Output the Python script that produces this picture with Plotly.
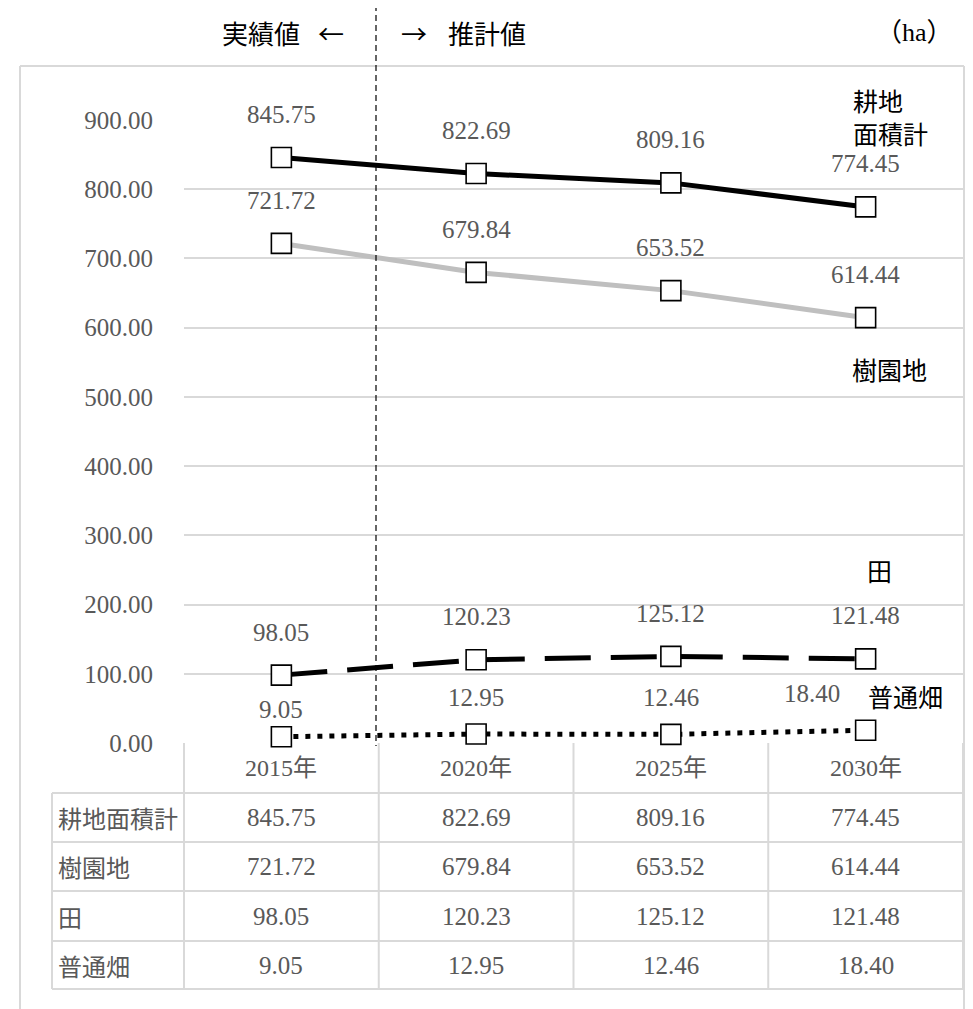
import plotly.graph_objects as go

categories = ["2015年", "2020年", "2025年", "2030年"]
series_names = ["耕地面積計", "樹園地", "田", "普通畑"]
total = [845.75, 822.69, 809.16, 774.45]
orchard = [721.72, 679.84, 653.52, 614.44]
paddy = [98.05, 120.23, 125.12, 121.48]
upland = [9.05, 12.95, 12.46, 18.40]
series_values = [total, orchard, paddy, upland]

W, H = 973, 1009
OFF = 8  # page body margin
def fx(px):
    return (px - OFF) / W
def fy(py):
    return 1 - (py - OFF) / H

NUM_FONT = "Liberation Serif, Noto Sans CJK JP"
CJK_FONT = "Noto Sans CJK JP"
GRAY = "#595959"
GRID = "#d9d9d9"

PLOT_L, PLOT_R, PLOT_T, PLOT_B = 184, 963, 120, 743

styles = [
    dict(color="black", width=5, dash="solid"),
    dict(color="#bfbfbf", width=5, dash="solid"),
    dict(color="black", width=5, dash="46px,20px"),
    dict(color="black", width=5, dash="5px,7px"),
]

fig = go.Figure()
for name, vals, st in zip(series_names, series_values, styles):
    fig.add_trace(go.Scatter(
        x=categories, y=vals, name=name, mode="lines+markers",
        line=dict(color=st["color"], width=st["width"], dash=st["dash"]),
        marker=dict(symbol="square", size=20, color="white",
                    line=dict(color="black", width=1.6)),
        showlegend=False, cliponaxis=False,
    ))

annotations = []
label_shift = [43, 43, 43, 37]
for si, vals in enumerate(series_values):
    for ci, v in enumerate(vals):
        ys = label_shift[si]
        xs = 0
        if si == 3 and ci == 0:
            ys = 27
        if si == 3 and ci == 3:
            xs = -54
        annotations.append(dict(
            x=categories[ci], y=v, xref="x", yref="y", text=f"{v:.2f}",
            showarrow=False, yshift=ys, xshift=xs,
            font=dict(family=NUM_FONT, size=25, color=GRAY)))

name_font = dict(family=CJK_FONT, size=25, color="black")
def pa(xp, yp, text, anchor, font):
    return dict(x=fx(xp), y=fy(yp), xref="paper", yref="paper", text=text,
                showarrow=False, xanchor=anchor, yanchor="middle", font=font)

annotations += [
    pa(851, 100, "耕地", "left", name_font),
    pa(851, 133, "面積計", "left", name_font),
    pa(850, 369, "樹園地", "left", name_font),
    pa(879, 570, "田", "center", name_font),
    pa(866, 696, "普通畑", "left", name_font),
]

head_font = dict(family=CJK_FONT, size=26, color="black")
annotations += [
    pa(302, 32, "実績値", "right", head_font),
    pa(331, 32, "←", "center", head_font),
    pa(414, 32, "→", "center", head_font),
    pa(446, 32, "推計値", "left", head_font),
    pa(955, 32, "（ha）", "right", dict(family=NUM_FONT, size=26, color="black")),
]

row_tops = [743, 793, 842, 891, 941, 989]
col_w = (PLOT_R - PLOT_L) / 4
TBL_L = 52
shapes = []
def hline(x0, x1, y, color=GRID, width=2, dash="solid"):
    return dict(type="line", xref="paper", yref="paper", x0=fx(x0), x1=fx(x1),
                y0=fy(y), y1=fy(y), line=dict(color=color, width=width, dash=dash))
def vline(x, y0, y1, color=GRID, width=2, dash="solid", layer="above"):
    return dict(type="line", xref="paper", yref="paper", x0=fx(x), x1=fx(x),
                y0=fy(y0), y1=fy(y1), line=dict(color=color, width=width, dash=dash),
                layer=layer)

for ci in range(5):
    shapes.append(vline(PLOT_L + ci * col_w, 743, 989))
shapes.append(vline(TBL_L, 793, 989))
for r in row_tops[1:]:
    shapes.append(hline(TBL_L, PLOT_R, r))
shapes.append(hline(20, 964, 66))
shapes.append(vline(20, 66, 1020))
shapes.append(vline(964, 66, 1020))
shapes.append(vline(376, 5, 746, color="black", width=1.2, dash="6px,4px"))

tbl_font = dict(family=NUM_FONT, size=25, color=GRAY)
lbl_font = dict(family=CJK_FONT, size=24, color=GRAY)
for ci, c in enumerate(categories):
    annotations.append(dict(x=c, y=fy(768), xref="x", yref="paper", text=c,
                            showarrow=False, xanchor="center", yanchor="middle",
                            font=dict(family=NUM_FONT, size=24, color=GRAY)))
for ri, (name, vals) in enumerate(zip(series_names, series_values)):
    yc = (row_tops[ri + 1] + row_tops[ri + 2]) / 2
    annotations.append(pa(56, yc, name, "left", lbl_font))
    for ci, v in enumerate(vals):
        annotations.append(dict(x=categories[ci], y=fy(yc), xref="x", yref="paper",
                                text=f"{v:.2f}", showarrow=False, xanchor="center",
                                yanchor="middle", font=tbl_font))

fig.update_layout(
    width=W, height=H, margin=dict(l=0, r=0, t=0, b=0, pad=0, autoexpand=False),
    paper_bgcolor="white", plot_bgcolor="white",
    xaxis=dict(domain=[fx(PLOT_L), fx(PLOT_R)], type="category",
               range=[-0.5, 3.5], showticklabels=False, showgrid=False,
               zeroline=False, showline=False, ticks="", automargin=False),
    yaxis=dict(domain=[fy(PLOT_B), fy(PLOT_T)], range=[0, 900], dtick=100,
               tickformat=".2f", showgrid=True, gridcolor=GRID, gridwidth=2,
               zeroline=False, showline=False, ticks="", ticklabelstandoff=30,
               automargin=False,
               tickfont=dict(family=NUM_FONT, size=25, color=GRAY)),
    annotations=annotations, shapes=shapes,
)

fig.write_html("out.html")
